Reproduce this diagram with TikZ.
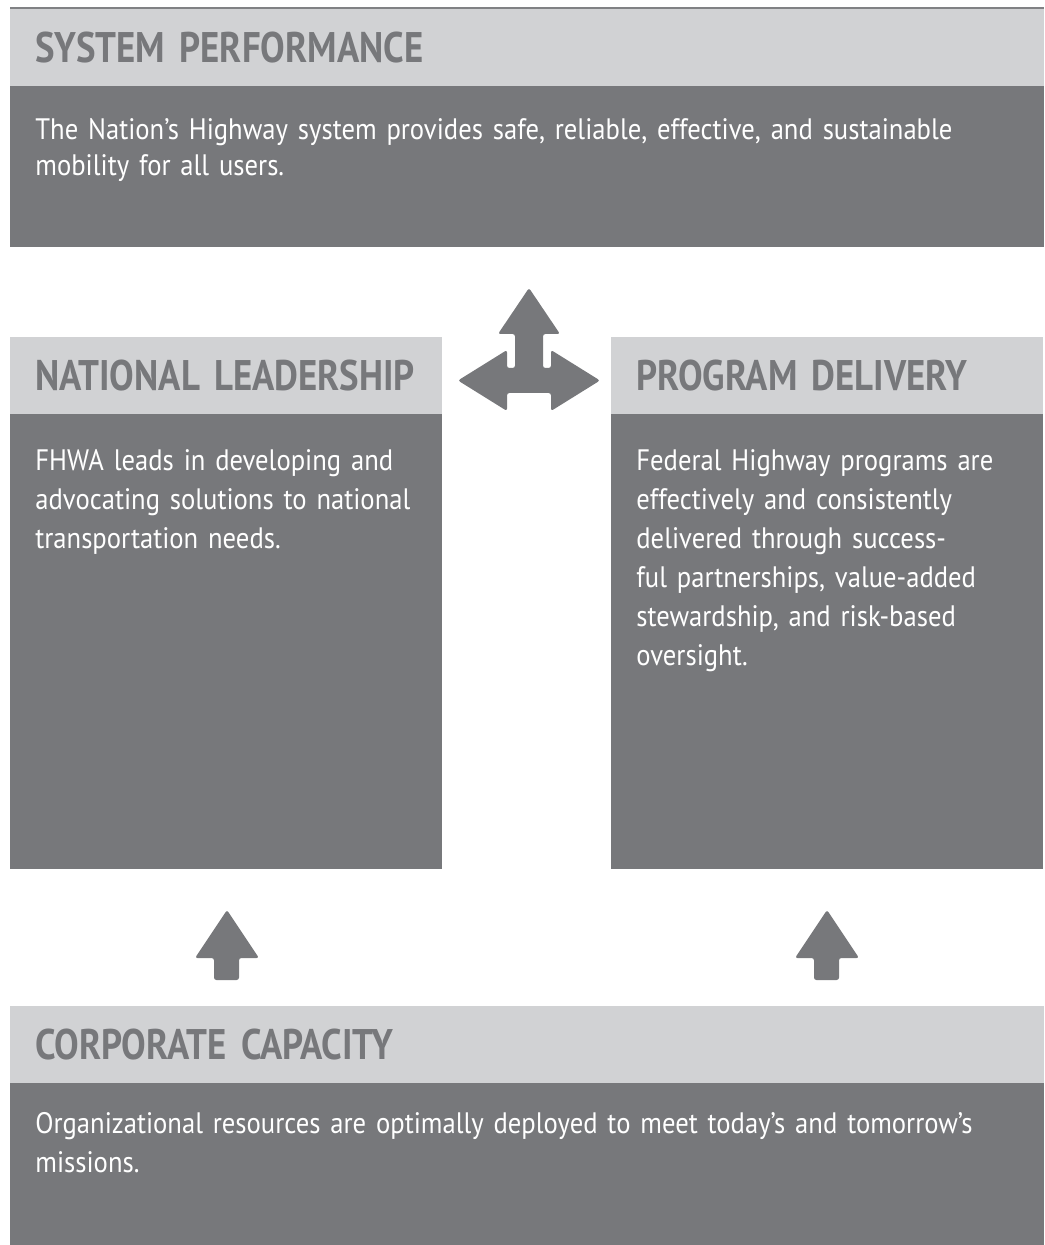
\documentclass[tikz,border=0pt]{standalone}
\usepackage{fontspec}
\setmainfont{PT Sans}[FakeStretch=0.9]
\newfontfamily\headfont{PT Sans}[FakeStretch=0.86]
\usetikzlibrary{positioning}
\definecolor{PanelGray}{HTML}{77787B}
\definecolor{HeadGray}{HTML}{D1D2D4}
\definecolor{RuleGray}{HTML}{808184}
\hyphenpenalty=10000
\exhyphenpenalty=10000

\tikzset{
  headbar/.style={fill=HeadGray, anchor=north west, inner xsep=12.5pt, inner ysep=0pt, outer sep=0pt,
    minimum height=38.5pt, text width=#1, align=left, text=PanelGray,
    font=\headfont\bfseries\fontsize{21.4}{22}\selectfont},
  panel/.style={fill=PanelGray, anchor=north west, inner sep=0pt, outer sep=0pt},
  bodytext/.style 2 args={anchor=base west, inner sep=0pt, text width=#1, align=left, text=white,
    font=\fontsize{14.8}{#2}\selectfont},
  blockarrow/.style={fill=PanelGray, rounded corners=1.2pt}
}

\begin{document}
\begin{tikzpicture}[x=0.5pt, y=-0.5pt]
\useasboundingbox (0,0) rectangle (1044,1245);

% rule over the top panel
\draw[RuleGray, line width=0.8pt] (10,8) -- (1044,8);

% system performance
\node[headbar=492pt] (sysHead) at (10,9) {SYSTEM~PERFORMANCE};
\node[panel, minimum width=517pt, minimum height=80.5pt] (sysBody) at (sysHead.south west) {};
\node[bodytext={500pt}{18pt}] (sysText) at ([xshift=12.5pt, yshift=-27pt]sysBody.north west)
  {The Nation’s Highway system provides safe, reliable, effective, and sustainable\\
   mobility for all users.};

% national leadership
\node[headbar=191pt] (natHead) at (10,337) {NATIONAL~LEADERSHIP};
\node[panel, minimum width=216pt, minimum height=227.5pt] (natBody) at (natHead.south west) {};
\node[bodytext={200pt}{19.5pt}] (natText) at ([xshift=12.5pt, yshift=-28pt]natBody.north west)
  {FHWA leads in developing and\\
   advocating solutions to national\\
   transportation needs.};

% program delivery
\node[headbar=191pt] (progHead) at (611,337) {PROGRAM~DELIVERY};
\node[panel, minimum width=216pt, minimum height=227.5pt] (progBody) at (progHead.south west) {};
\node[bodytext={200pt}{19.5pt}] (progText) at ([xshift=12.5pt, yshift=-28pt]progBody.north west)
  {Federal Highway programs are\\
   effectively and consistently\\
   delivered through success-\\
   ful partnerships, value-added\\
   stewardship, and risk-based\\
   oversight.};

% corporate capacity
\node[headbar=492pt] (corpHead) at (10,1006) {CORPORATE~CAPACITY};
\node[panel, minimum width=517pt, minimum height=81pt] (corpBody) at (corpHead.south west) {};
\node[bodytext={500pt}{19.5pt}] (corpText) at ([xshift=12.5pt, yshift=-25pt]corpBody.north west)
  {Organizational resources are optimally deployed to meet today’s and tomorrow’s\\
   missions.};

% three-way arrow between the side panels
\fill[blockarrow] (529,288) -- (560,334) -- (543,334) -- (543,368) -- (551,368) -- (551,350)
  -- (600,380.5) -- (551,411) -- (551,393) -- (507,393) -- (507,411) -- (458,380.5)
  -- (507,350) -- (507,368) -- (515,368) -- (515,334) -- (498,334) -- cycle;

% up arrows from corporate capacity
\foreach \cx in {227,827}
  \fill[blockarrow] (\cx,910) -- (\cx+32,958) -- (\cx+12,958) -- (\cx+12,980)
    -- (\cx-13,980) -- (\cx-13,958) -- (\cx-32,958) -- cycle;
\end{tikzpicture}
\end{document}
